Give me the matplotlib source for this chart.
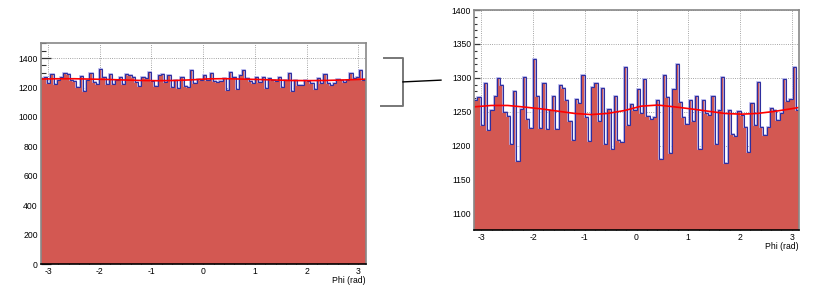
import numpy as np
import matplotlib
matplotlib.use('Agg')
import matplotlib.pyplot as plt
from matplotlib.ticker import MultipleLocator
from matplotlib.lines import Line2D
import matplotlib.transforms as mtransforms

plt.rcParams['font.family'] = ['Liberation Sans', 'DejaVu Sans']
plt.rcParams['axes.unicode_minus'] = False

# Phi histogram, 100 bins from -pi to pi (counts)
counts = [1267, 1272, 1231, 1293, 1223, 1253, 1273, 1300, 1289, 1250,
          1244, 1203, 1280, 1178, 1254, 1301, 1239, 1226, 1328, 1273,
          1226, 1293, 1225, 1253, 1273, 1225, 1289, 1285, 1268, 1237,
          1208, 1269, 1263, 1304, 1243, 1207, 1287, 1293, 1236, 1285,
          1203, 1254, 1196, 1273, 1208, 1206, 1316, 1230, 1261, 1252,
          1283, 1248, 1299, 1244, 1240, 1243, 1267, 1181, 1304, 1272,
          1190, 1283, 1320, 1265, 1242, 1232, 1268, 1237, 1273, 1195,
          1267, 1248, 1245, 1273, 1203, 1253, 1301, 1174, 1253, 1218,
          1215, 1251, 1246, 1228, 1191, 1263, 1230, 1294, 1228, 1216,
          1228, 1256, 1253, 1238, 1248, 1298, 1266, 1269, 1316, 1253]
nbins = 100

# fit curve, sampled by eye
fit_phi = [-3.14, -2.81, -2.49, -2.16, -1.84, -1.52, -1.20, -0.88, -0.56, -0.23,
           0.09, 0.41, 0.73, 1.05, 1.38, 1.70, 2.02, 2.34, 2.66, 2.98, 3.14]
fit_val = [1257.4, 1259.4, 1259.4, 1257.0, 1254.4, 1251.0, 1247.7, 1246.0, 1247.7, 1252.0,
           1258.4, 1260.0, 1257.4, 1254.4, 1251.0, 1247.7, 1246.6, 1247.7, 1250.6, 1254.4, 1256.5]

edges = np.linspace(-np.pi, np.pi, nbins + 1)

fill_col = '#d35852'
line_col = '#2e2e9e'

fig = plt.figure(figsize=(8.3, 2.95), dpi=100)
ax1 = fig.add_axes([0.049, 0.1041, 0.3916, 0.7491])
ax2 = fig.add_axes([0.5711, 0.2203, 0.3916, 0.7458])


def draw_panel(ax, ylo, yhi, ymaj, ymin, ymajlen):
    ax.stairs(counts, edges, fill=True, color=fill_col, lw=0)
    ax.stairs(counts, edges, color='#b4b4ec', lw=1.2, baseline=None)
    ax.stairs(counts, edges, color=line_col, lw=0.8, baseline=None)
    ax.plot(fit_phi, fit_val, color='#ff0000', lw=1.2)
    ax.set_xlim(-np.pi, np.pi)
    ax.set_ylim(ylo, yhi)
    ax.xaxis.set_major_locator(MultipleLocator(1))
    ax.xaxis.set_minor_locator(MultipleLocator(0.2))
    ax.yaxis.set_major_locator(MultipleLocator(ymaj))
    ax.yaxis.set_minor_locator(MultipleLocator(ymin))
    ax.grid(True, which='major', linestyle=':', color='#888888', lw=0.6)
    ax.set_axisbelow(True)
    ax.tick_params(axis='y', which='major', direction='in', length=ymajlen, width=0.9,
                   color='#333333', labelsize=6.2, pad=2)
    ax.tick_params(axis='y', which='minor', direction='in', length=ymajlen / 2, width=0.8,
                   color='#333333')
    ax.tick_params(axis='x', which='major', direction='in', length=4.5, width=0.9,
                   color='#333333', labelsize=6.2, pad=2)
    ax.tick_params(axis='x', which='minor', direction='in', length=2.2, width=0.8,
                   color='#333333')
    for s in ['left', 'top', 'right']:
        ax.spines[s].set_color('#888888')
        ax.spines[s].set_linewidth(1.2)
    ax.spines['bottom'].set_color('black')
    ax.spines['bottom'].set_linewidth(1.2)
    ax.set_xlabel('Phi (rad)', loc='right', fontsize=6.2, labelpad=0)


draw_panel(ax1, 0, 1500, 200, 50, 7)
draw_panel(ax2, 1076, 1400, 50, 10, 4.5)

# bracket marking the zoomed range on the left panel
zlo, zhi = ax2.get_ylim()
tr = mtransforms.blended_transform_factory(fig.transFigure, ax1.transData)
bx = 0.4855
fig.add_artist(Line2D([0.4627, bx, bx, 0.459], [zhi, zhi, zlo, zlo],
                      transform=tr, color='#777777', lw=1.4))
fig.canvas.draw()
ymid = (zhi + zlo) / 2
ymid_fig = fig.transFigure.inverted().transform(ax1.transData.transform((0, ymid)))[1]
fig.add_artist(Line2D([bx, 0.5313], [ymid_fig, ymid_fig + 0.006],
                      transform=fig.transFigure, color='black', lw=1.0))

fig.savefig('out.png', dpi=100)
